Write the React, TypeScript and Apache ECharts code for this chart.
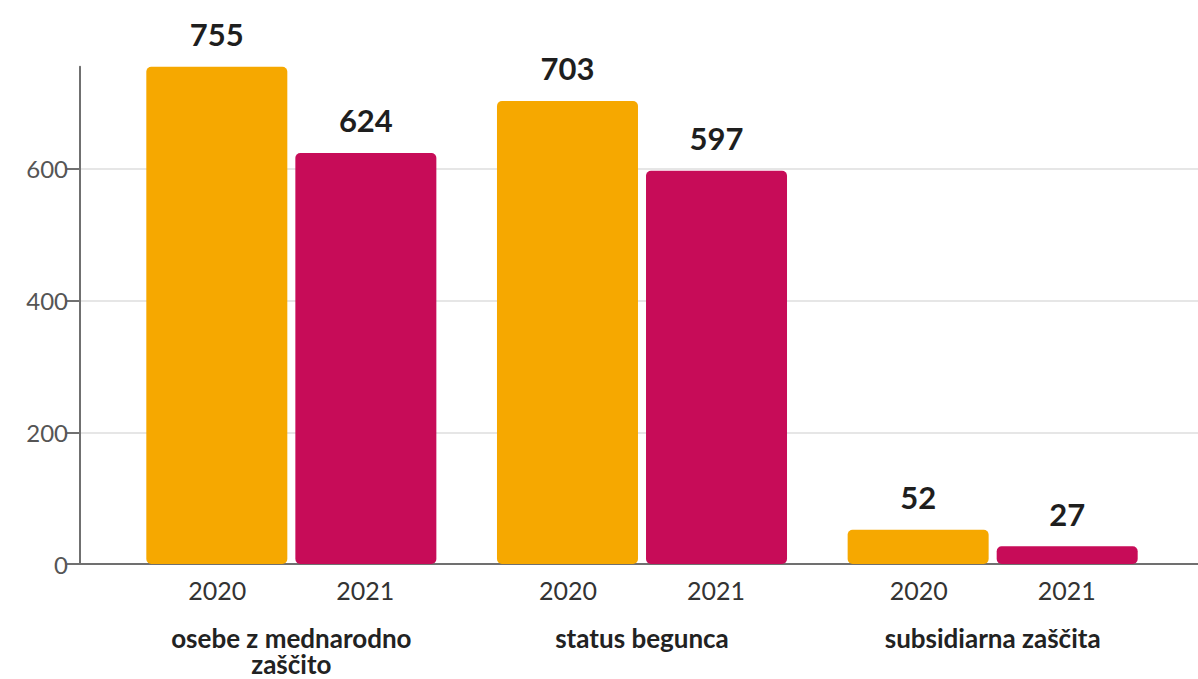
import React, { useEffect, useRef } from "react";
import * as echarts from "echarts";

const categories = ["osebe z mednarodno\nzaščito", "status begunca", "subsidiarna zaščita"];
const years = ["2020", "2021"];
const values2020 = [755, 703, 52];
const values2021 = [624, 597, 27];
const yMax = 755;
const tickMax = 600;
const tickStep = 200;

export default function App() {
  const ref = useRef<HTMLDivElement>(null);
  useEffect(() => {
    const chart = echarts.init(ref.current!, null, { renderer: "svg" });
    const font = "Lato, 'Noto Sans', sans-serif";
    const zeroY = 564;
    const top = 66.7;
    const pxPerUnit = (zeroY - top) / yMax;
    const tickTop = zeroY - tickMax * pxPerUnit;
    const bottom = 679 - zeroY;
    const axisColor = "#707070";
    chart.setOption({
      animation: false,
      textStyle: { fontFamily: font },
      grid: [
        { left: 80, right: 0, top, bottom },
        { left: 116, right: 30, top, bottom },
        { left: 80, right: 0, top: tickTop, bottom },
      ],
      xAxis: [
        {
          gridIndex: 0,
          type: "value",
          min: 0,
          max: 1,
          axisLine: { show: true, lineStyle: { color: axisColor, width: 2 } },
          axisTick: { show: false },
          axisLabel: { show: false },
          splitLine: { show: false },
        },
        {
          gridIndex: 1,
          type: "category",
          data: categories,
          axisLine: { show: false },
          axisTick: { show: false },
          axisLabel: {
            margin: 12,
            interval: 0,
            formatter: (v: string) => {
              const lines = v.split("\n").map((l) => `{c|${l}}`).join("\n");
              return `{y|${years[0]}}{y|${years[1]}}\n{s| }\n${lines}`;
            },
            rich: {
              y: { width: 148, align: "center", fontSize: 25, lineHeight: 28, color: "#333333", fontFamily: font },
              s: { lineHeight: 21, fontSize: 10 },
              c: { align: "center", fontSize: 26, fontWeight: "bold", lineHeight: 26, color: "#222222", fontFamily: font },
            },
          },
        },
        {
          gridIndex: 2,
          type: "value",
          min: 0,
          max: 1,
          show: false,
        },
      ],
      yAxis: [
        {
          gridIndex: 0,
          type: "value",
          min: 0,
          max: yMax,
          axisLine: { show: true, lineStyle: { color: axisColor, width: 2 } },
          axisTick: { show: false },
          axisLabel: { show: false },
          splitLine: { show: false },
        },
        {
          gridIndex: 1,
          type: "value",
          min: 0,
          max: yMax,
          show: false,
        },
        {
          gridIndex: 2,
          type: "value",
          min: 0,
          max: tickMax,
          interval: tickStep,
          axisLine: { show: false },
          axisTick: { show: true, length: 13, lineStyle: { color: axisColor, width: 2 } },
          axisLabel: {
            margin: 12,
            fontSize: 24,
            color: "#555555",
            fontFamily: font,
          },
          splitLine: { show: true, lineStyle: { color: "#e6e6e6", width: 2 } },
        },
      ],
      series: [
        {
          name: years[0],
          type: "bar",
          xAxisIndex: 1,
          yAxisIndex: 1,
          data: values2020,
          barWidth: 141,
          barGap: "5.7%",
          z: 3,
          itemStyle: { color: "#F6A800", borderRadius: 5 },
          label: {
            show: true,
            position: "top",
            distance: 17,
            fontSize: 31,
            fontWeight: "bold",
            color: "#1e1e1e",
            fontFamily: font,
          },
        },
        {
          name: years[1],
          type: "bar",
          xAxisIndex: 1,
          yAxisIndex: 1,
          data: values2021,
          barWidth: 141,
          barGap: "5.7%",
          z: 3,
          itemStyle: { color: "#C70C58", borderRadius: 5 },
          label: {
            show: true,
            position: "top",
            distance: 17,
            fontSize: 31,
            fontWeight: "bold",
            color: "#1e1e1e",
            fontFamily: font,
          },
        },
      ],
    });
    return () => chart.dispose();
  }, []);
  return (
    <div
      ref={ref}
      style={{ position: "fixed", left: 0, top: 0, width: 1198, height: 679, background: "#ffffff" }}
    />
  );
}
